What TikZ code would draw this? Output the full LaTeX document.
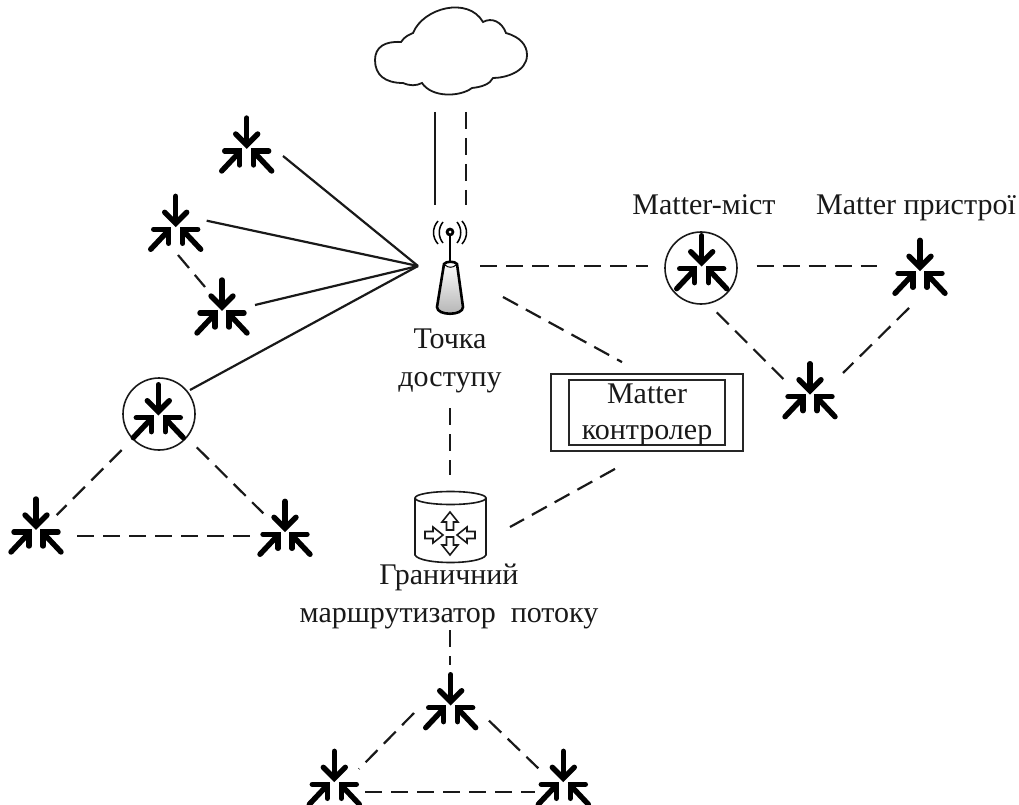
\documentclass[tikz,border=0pt]{standalone}
\usepackage{fontspec}
\setmainfont{Liberation Serif}
\usetikzlibrary{calc}
\tikzset{
  x=1pt,y=-1pt,
  link/.style={line width=2.2pt,black!90},
  dash link/.style={link,dash pattern=on 17pt off 9pt},
  port/.style={inner sep=0pt,minimum size=0pt,outer sep=0pt},
  lab/.style={inner sep=0pt,font=\fontsize{30}{38}\selectfont,align=center,text=black!90},
  ring/.style={draw=black!90,line width=1.6pt,circle,inner sep=0pt,minimum size=72pt,fill=white},
  devicon/.pic={
    \draw[line width=5.4pt,black,line cap=round] (0,-27) -- (0,-2);
    \draw[line width=5.4pt,black,line cap=round,miter limit=10] (-11,-11) -- (0,0) -- (11,-11);
    \draw[line width=5.4pt,black,line cap=round] (-25,26) -- (-9,9);
    \draw[line width=5.4pt,black,line cap=round,miter limit=10] (-22,6) -- (-7,6) -- (-7,20);
    \draw[line width=5.4pt,black,line cap=round] (25,26) -- (9,9);
    \draw[line width=5.4pt,black,line cap=round,miter limit=10] (22,6) -- (7,6) -- (7,20);
  },
  blockarrow/.pic={
    \draw[line width=1.6pt,black!90,line join=miter,fill=white] (0,-22) -- (8,-12) -- (3.5,-12) -- (3.5,-4) -- (-3.5,-4) -- (-3.5,-12) -- (-8,-12) -- cycle;
  }
}
\newcommand{\device}[2]{\node[port] (#1) at (#2) {}; \pic at (#2) {devicon};}
\begin{document}
\begin{tikzpicture}
\useasboundingbox (0,0) rectangle (1019,805);
\fill[white] (0,0) rectangle (1019,805);
% cloud
\draw[line width=1.8pt,black!90,fill=white] (401,42)
  .. controls (405,36) and (409,35) .. (413,33)
  .. controls (423,8) and (468,-4) .. (483,22)
  .. controls (492,17) and (502,22) .. (506,33)
  .. controls (520,37) and (527,45) .. (527,55)
  .. controls (527,72) and (505,78) .. (493,78)
  .. controls (490,84) and (482,87) .. (472,88)
  .. controls (460,97) and (432,98) .. (422,83)
  .. controls (416,86) and (410,86) .. (403,83)
  .. controls (385,83) and (375,75) .. (375,60)
  .. controls (375,47) and (385,41) .. (401,42) -- cycle;
\node[port] (cloud) at (451,50) {};
% access point
\node[port] (ap) at (450,270) {};
\node[port] (apL) at (418,266) {};
\draw[line width=2.8pt,black] (450,232) -- (450,262);
\fill[black] (450,232) circle (4.4);
\fill[white] (450,232) circle (1.5);
\draw[line width=1.5pt,black] (443,222) .. controls (438,228) and (438,237) .. (443,243);
\draw[line width=1.5pt,black] (457,222) .. controls (462,228) and (462,237) .. (457,243);
\draw[line width=1.5pt,black] (438,221) .. controls (432,228) and (432,237) .. (438,244);
\draw[line width=1.5pt,black] (462,221) .. controls (468,228) and (468,237) .. (462,244);
\draw[line width=2.6pt,black,top color=white,bottom color=black!30]
  (444,264) .. controls (446,261) and (455,261) .. (457,264)
  -- (463,307) .. controls (463,316) and (437,316) .. (437,307) -- cycle;
\draw[line width=1pt,black] (445,265) .. controls (448,268) and (453,268) .. (456,265);
% router
\node[port] (rt) at (450,527) {};
\draw[line width=1.6pt,black!90,fill=white] (415,498) -- (415,555) .. controls (420,565) and (481,565) .. (486,555) -- (486,498);
\draw[line width=1.6pt,black!90,fill=white] (450.5,498) ellipse (35.5 and 6.5);
\pic at (450,534) {blockarrow};
\pic[rotate=180] at (450,533) {blockarrow};
\pic[rotate=-90] at (421,535) {blockarrow};
\pic[rotate=90] at (479,535) {blockarrow};
% bridges
\node[ring] (b1) at (159,414) {};
\node[ring] (b2) at (701,268) {};
\pic at (158.3,411.7) {devicon};
\pic at (701.7,262.7) {devicon};
% devices
\device{d1}{246.7,145}
\device{d2}{175.7,223.3}
\device{d3}{222,307}
\device{d4}{36,526}
\device{d5}{285,528.3}
\device{d6}{920,267.3}
\device{d7}{810,390.7}
\device{d8}{450.7,701.7}
\device{d9}{334.3,778.3}
\device{d10}{563.3,778.3}
% controller
\node[draw=black!85,line width=1.8pt,minimum width=192pt,minimum height=77pt,inner sep=0pt] (cOut) at (647,412.5) {};
\node[draw=black!85,line width=1.8pt,minimum width=156pt,minimum height=65pt,inner sep=0pt] (cIn) at (647,412.5) {};
\node[lab,font=\fontsize{30}{36}\selectfont] (cT) at (647,414.5) {Matter\\контролер};
% labels
\node[lab] (tAP) at (450,361) {Точка\\доступу};
\node[lab,anchor=base] (tB) at (704,214) {Matter-міст};
\node[lab,anchor=base] (tD) at (916,214) {Matter пристрої};
\node[lab] (tR) at (449,596) {Граничний\\маршрутизатор\ \ потоку};
% solid links
\draw[link] ($(d1)+(36.3,11)$) -- (apL);
\draw[link] ($(d2)+(31,-2.6)$) -- (apL);
\draw[link] ($(d3)+(33,-2)$) -- (apL);
\draw[link] ($(b1)+(31,-24)$) -- (apL);
\draw[link] ($(cloud)+(-16,62)$) -- ($(ap)+(-15,-65)$);
% dashed links
\draw[dash link] ($(cloud)+(15,62)$) -- ($(ap)+(16,-65)$);
\draw[dash link] ($(d2)+(2.3,31.7)$) -- ($(d3)+(-17,-20)$);
\draw[dash link] ($(b1)+(-37.3,36)$) -- ($(d4)+(20.7,-11)$);
\draw[dash link] ($(b1)+(37.7,33.3)$) -- ($(d5)+(-21.7,-15)$);
\draw[dash link] ($(d4)+(41,10)$) -- ($(d5)+(-35,7.7)$);
\draw[dash link] ($(ap)+(30,-4)$) -- ($(b2)+(-53,-2)$);
\draw[dash link] ($(b2)+(55.7,-2)$) -- ($(d6)+(-43.3,-1.3)$);
\draw[dash link] ($(b2)+(15.7,44.3)$) -- ($(d7)+(-26.7,-11.7)$);
\draw[dash link] ($(d6)+(-11,40.7)$) -- ($(d7)+(33,-17.7)$);
\draw[dash link] ($(ap)+(53,27)$) -- ($(cOut.north)+(-25,-11)$);
\draw[dash link] ($(ap)+(0,138)$) -- ($(rt)+(0,-52)$);
\draw[dash link] ($(cOut.south)+(-32,17)$) -- ($(rt)+(60,0)$);
\draw[dash link] ($(rt)+(0,103)$) -- ($(d8)+(-0.7,-37)$);
\draw[dash link] ($(d8)+(-36.7,11.3)$) -- ($(d9)+(24.7,-9.3)$);
\draw[dash link] ($(d8)+(38.3,19)$) -- ($(d10)+(-25,-10)$);
\draw[dash link] ($(d9)+(30.7,13.4)$) -- ($(d10)+(-28.3,13.4)$);
\end{tikzpicture}
\end{document}
